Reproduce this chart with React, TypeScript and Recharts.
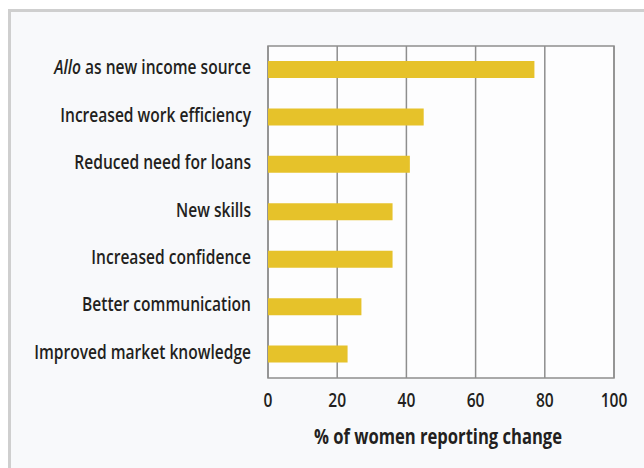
import React from "react";
import {
  BarChart,
  Bar,
  XAxis,
  YAxis,
  CartesianGrid,
  ReferenceArea,
} from "recharts";

const categories = [
  "Allo as new income source",
  "Increased work efficiency",
  "Reduced need for loans",
  "New skills",
  "Increased confidence",
  "Better communication",
  "Improved market knowledge",
];
const shares = [77, 45, 41, 36, 36, 27, 23];
const xTicks = [0, 20, 40, 60, 80, 100];

const data = categories.map((name, i) => ({ name, value: shares[i] }));

// no condensed font available, so squeeze a humanist sans horizontally
const FONT = "'Open Sans', 'Noto Sans', sans-serif";
const SIZE = 20.5;
const SQUEEZE = 0.76;
const INK = "#231f20";

const CategoryTick = (props: any) => {
  const { x, y, payload } = props;
  const label: string = payload.value;
  const italicPart = label.startsWith("Allo") ? "Allo" : "";
  return (
    <g transform={`translate(${x},${y + 4.5}) scale(${SQUEEZE},1)`}>
      <text
        x={0}
        y={0}
        textAnchor="end"
        fontFamily={FONT}
        fontSize={SIZE}
        fontWeight={600}
        fill={INK}
      >
        {italicPart && <tspan fontStyle="italic">{italicPart}</tspan>}
        <tspan>{label.slice(italicPart.length)}</tspan>
      </text>
    </g>
  );
};

const ValueTick = (props: any) => {
  const { x, y, payload } = props;
  return (
    <g transform={`translate(${x},${y + 16}) scale(${SQUEEZE},1)`}>
      <text
        x={0}
        y={0}
        textAnchor="middle"
        fontFamily={FONT}
        fontSize={SIZE}
        fontWeight={600}
        fill={INK}
      >
        {payload.value}
      </text>
    </g>
  );
};

const AxisTitle = (props: any) => {
  const { viewBox } = props;
  const cx = viewBox.x + viewBox.width / 2 - 3;
  return (
    <g transform={`translate(${cx},${viewBox.y + 66}) scale(0.81,1)`}>
      <text
        x={0}
        y={0}
        textAnchor="middle"
        fontFamily={FONT}
        fontSize={SIZE}
        fontWeight={700}
        fill={INK}
      >
        % of women reporting change
      </text>
    </g>
  );
};

export default function App() {
  return (
    <div
      style={{
        position: "absolute",
        left: 0,
        top: 0,
        width: 644,
        height: 468,
        overflow: "hidden",
        background: "#fff",
      }}
    >
      <div
        style={{
          position: "absolute",
          left: 8,
          top: 9,
          width: 700,
          height: 520,
          border: "3px solid #cfcfcf",
          background: "#f8f9fb",
        }}
      />
      <div style={{ position: "absolute", left: 0, top: 0 }}>
        <BarChart
          width={644}
          height={468}
          data={data}
          layout="vertical"
          margin={{ top: 46, right: 30, bottom: 0, left: 0 }}
          barCategoryGap={0}
        >
          <CartesianGrid
            horizontal={false}
            stroke="#8e8e8e"
            strokeWidth={1.5}
            fill="#fdfdfe"
          />
          <ReferenceArea
            x1={0}
            x2={100}
            fill="none"
            fillOpacity={0}
            stroke="#8e8e8e"
            strokeWidth={1.5}
          />
          <XAxis
            type="number"
            domain={[0, 100]}
            ticks={xTicks}
            height={90}
            axisLine={false}
            tickLine={false}
            tickSize={0}
            tickMargin={13}
            tick={<ValueTick />}
            label={<AxisTitle />}
          />
          <YAxis
            type="category"
            dataKey="name"
            width={268}
            axisLine={false}
            tickLine={false}
            tickSize={0}
            tickMargin={17}
            interval={0}
            tick={<CategoryTick />}
          />
          <Bar
            dataKey="value"
            fill="#e6c22a"
            barSize={17}
            isAnimationActive={false}
          />
        </BarChart>
      </div>
    </div>
  );
}
